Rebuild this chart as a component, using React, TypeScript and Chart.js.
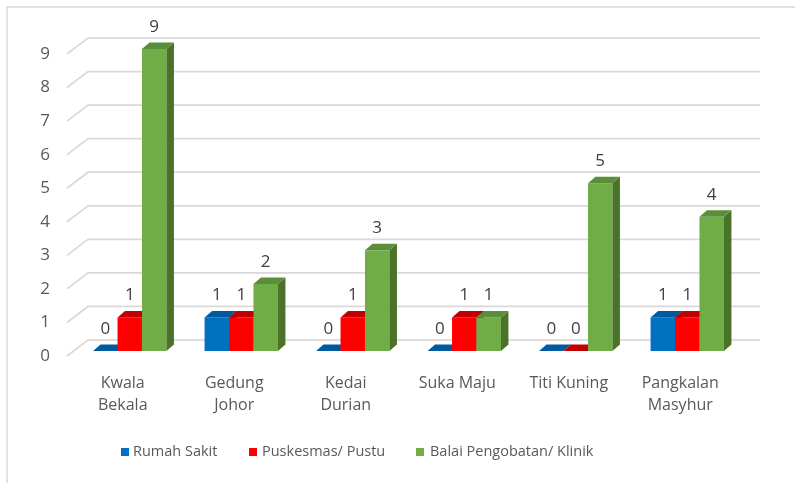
import React, { useEffect, useRef } from "react";
import { Chart, registerables } from "chart.js";

Chart.register(...registerables);

const categories: string[][] = [
  ["Kwala", "Bekala"],
  ["Gedung", "Johor"],
  ["Kedai", "Durian"],
  ["Suka Maju"],
  ["Titi Kuning"],
  ["Pangkalan", "Masyhur"],
];
const rumahSakit = [0, 1, 0, 0, 0, 1];
const puskesmas = [1, 1, 1, 1, 0, 1];
const balai = [9, 2, 3, 1, 5, 4];
const seriesNames = ["Rumah Sakit", "Puskesmas/ Pustu", "Balai Pengobatan/ Klinik"];
const yTicks = [0, 1, 2, 3, 4, 5, 6, 7, 8, 9];

const faceColors = [
  { front: "#0070C0", top: "#005A9E", side: "#004E8A" },
  { front: "#FF0000", top: "#C00000", side: "#A00000" },
  { front: "#70AD47", top: "#5B8E3A", side: "#4A7229" },
];

const FONT = "'Open Sans', 'Noto Sans', sans-serif";

const bars3d = {
  id: "bars3d",
  beforeDatasetsDraw(chart: any) {
    const ctx = chart.ctx;
    const y = chart.scales.y;
    const left = chart.chartArea.left;
    const backRight = chart.chartArea.right + 24;
    ctx.save();
    ctx.strokeStyle = "#D9D9D9";
    ctx.lineWidth = 1.75;
    for (const v of yTicks) {
      const yf = y.getPixelForValue(v);
      ctx.beginPath();
      ctx.moveTo(left, yf);
      ctx.lineTo(left + 21, yf - 16);
      ctx.lineTo(backRight, yf - 16);
      ctx.stroke();
    }
    // outer border (left and top only visible)
    ctx.strokeStyle = "#D9D9D9";
    ctx.lineWidth = 1.5;
    ctx.beginPath();
    ctx.moveTo(7, 483);
    ctx.lineTo(7, 7);
    ctx.lineTo(795, 7);
    ctx.stroke();
    ctx.restore();
  },
  afterDatasetsDraw(chart: any) {
    const ctx = chart.ctx;
    const dx = 7.5;
    const dy = 6.5;
    const sx = 7;
    const sy = -5;
    const n = chart.data.labels.length;
    ctx.save();
    const labels: { x: number; y: number; t: string }[] = [];
    for (let i = 0; i < n; i++) {
      for (let d = 0; d < chart.data.datasets.length; d++) {
        const meta = chart.getDatasetMeta(d);
        const el: any = meta.data[i];
        const c = faceColors[d];
        const x0 = el.x - el.width / 2 + sx;
        const x1 = el.x + el.width / 2 + sx;
        const yt = el.y + sy;
        const yb = el.base + sy;
        // front
        ctx.fillStyle = c.front;
        ctx.fillRect(x0, yt, x1 - x0, yb - yt);
        // right side
        ctx.fillStyle = c.side;
        ctx.beginPath();
        ctx.moveTo(x1, yt);
        ctx.lineTo(x1 + dx, yt - dy);
        ctx.lineTo(x1 + dx, yb - dy);
        ctx.lineTo(x1, yb);
        ctx.closePath();
        ctx.fill();
        // top
        ctx.fillStyle = c.top;
        ctx.beginPath();
        ctx.moveTo(x0, yt);
        ctx.lineTo(x1, yt);
        ctx.lineTo(x1 + dx, yt - dy);
        ctx.lineTo(x0 + dx, yt - dy);
        ctx.closePath();
        ctx.fill();
        labels.push({ x: (x0 + x1) / 2, y: yt - 22, t: String(chart.data.datasets[d].data[i]) });
      }
    }
    ctx.fillStyle = "#404040";
    ctx.font = `17px ${FONT}`;
    ctx.textAlign = "center";
    ctx.textBaseline = "middle";
    for (const l of labels) ctx.fillText(l.t, l.x, l.y);

    // legend
    const items = [
      { x: 121, tx: 133 },
      { x: 249, tx: 262 },
      { x: 416, tx: 430 },
    ];
    const ly = 452;
    ctx.font = `14.5px ${FONT}`;
    ctx.textAlign = "left";
    ctx.textBaseline = "middle";
    items.forEach((it, k) => {
      ctx.fillStyle = faceColors[k].front;
      ctx.fillRect(it.x, ly - 4, 8, 8);
      ctx.fillStyle = "#595959";
      ctx.fillText(seriesNames[k], it.tx, ly);
    });
    ctx.restore();
  },
};

export default function App() {
  const ref = useRef<HTMLCanvasElement | null>(null);
  useEffect(() => {
    document.body.style.margin = "0";
    const canvas = ref.current!;
    const chart = new Chart(canvas, {
      type: "bar",
      data: {
        labels: categories,
        datasets: [
          { label: seriesNames[0], data: rumahSakit, backgroundColor: "rgba(0,0,0,0)" },
          { label: seriesNames[1], data: puskesmas, backgroundColor: "rgba(0,0,0,0)" },
          { label: seriesNames[2], data: balai, backgroundColor: "rgba(0,0,0,0)" },
        ],
      },
      options: {
        animation: false,
        responsive: false,
        maintainAspectRatio: false,
        devicePixelRatio: 1,
        layout: { padding: { left: 0, top: 54, right: 59, bottom: 0 } },
        plugins: {
          legend: { display: false },
          tooltip: { enabled: false },
        },
        datasets: {
          bar: { categoryPercentage: 0.658, barPercentage: 1.0 },
        },
        scales: {
          x: {
            grid: { display: false, drawTicks: false },
            border: { display: false },
            ticks: {
              color: "#595959",
              font: { family: FONT, size: 16, lineHeight: 1.375 },
              padding: 16,
              maxRotation: 0,
              autoSkip: false,
            },
            afterFit: (s: any) => {
              s.height = 127;
            },
          },
          y: {
            min: 0,
            max: 9,
            grid: { display: false, drawTicks: false },
            border: { display: false },
            ticks: {
              stepSize: 1,
              color: "#595959",
              font: { family: FONT, size: 17 },
              padding: 17,
            },
            afterFit: (s: any) => {
              s.width = 67;
            },
          },
        },
      },
      plugins: [bars3d],
    });
    return () => chart.destroy();
  }, []);
  return <canvas ref={ref} width={795} height={483} style={{ display: "block" }} />;
}
